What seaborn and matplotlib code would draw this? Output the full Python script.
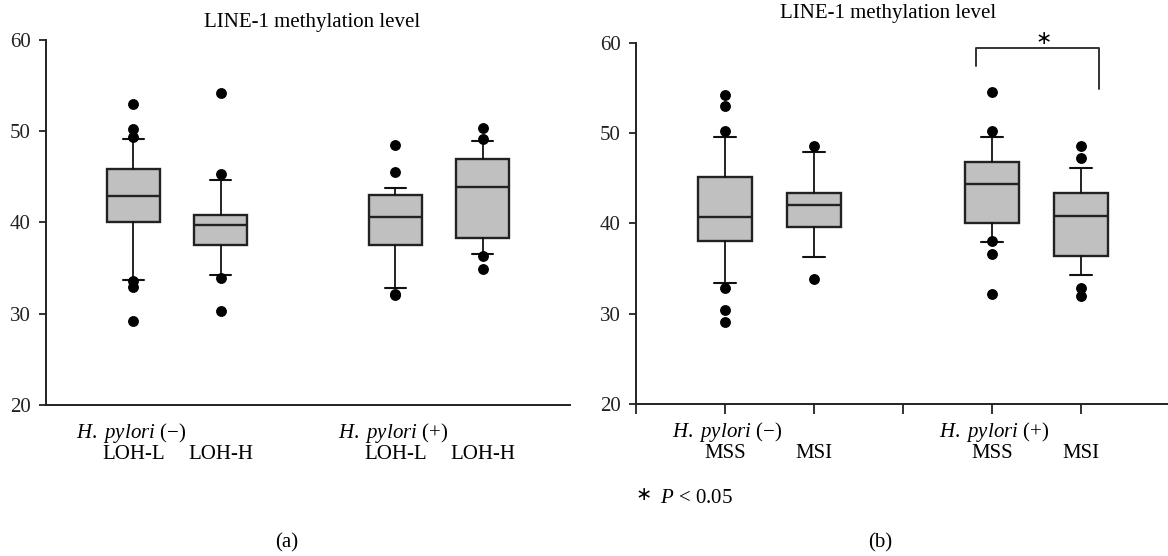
import numpy as np
import pandas as pd
import seaborn as sns
import matplotlib.pyplot as plt

# Box positions on the x axis (two groups of two boxes)
positions = [1, 2, 4, 5]
group_labels = [r"$\mathit{H.\ pylori}$ (−)", r"$\mathit{H.\ pylori}$ (+)"]

# Panel (a): LOH-L / LOH-H
labels_a = ["LOH-L", "LOH-H", "LOH-L", "LOH-H"]
q1_a = [40.0, 37.5, 37.5, 38.3]
med_a = [42.9, 39.7, 40.6, 43.9]
q3_a = [45.9, 40.8, 43.05, 47.0]
lo_a = [33.7, 34.2, 32.8, 36.5]
hi_a = [49.1, 44.7, 43.8, 48.9]
out_a = [[53.0, 50.2, 49.4, 33.6, 32.9, 29.2],
         [54.2, 45.3, 33.9, 30.3],
         [48.5, 45.5, 32.2, 32.0],
         [50.3, 49.2, 36.3, 34.9]]

# Panel (b): MSS / MSI
labels_b = ["MSS", "MSI", "MSS", "MSI"]
q1_b = [38.1, 39.6, 40.0, 36.4]
med_b = [40.7, 42.0, 44.4, 40.8]
q3_b = [45.2, 43.4, 46.8, 43.4]
lo_b = [33.4, 36.3, 38.0, 34.3]
hi_b = [49.6, 47.9, 49.6, 46.1]
out_b = [[54.2, 53.0, 50.2, 32.9, 30.4, 29.1],
         [48.6, 33.9],
         [54.6, 50.2, 38.1, 36.6, 32.2],
         [48.6, 47.3, 32.9, 32.0]]

# significance bracket between the two H. pylori (+) boxes
bracket_x = [3.82, 3.82, 5.2, 5.2]
bracket_y = [57.4, 59.4, 59.4, 54.9]
star_x, star_y = 4.58, 60.5

sns.set_style("ticks")
plt.rcParams['font.family'] = ['Liberation Serif', 'DejaVu Serif']
plt.rcParams['mathtext.fontset'] = 'custom'
plt.rcParams['mathtext.rm'] = 'Liberation Serif'
plt.rcParams['mathtext.it'] = 'Liberation Serif:italic'
plt.rcParams['text.color'] = 'black'
plt.rcParams['xtick.color'] = '#222222'
plt.rcParams['ytick.color'] = '#222222'


def draw_boxes(ax, q1, med, q3, lo, hi, out):
    stats = []
    for i in range(len(positions)):
        stats.append(dict(q1=q1[i], med=med[i], q3=q3[i],
                          whislo=lo[i], whishi=hi[i], fliers=out[i]))
    ax.bxp(stats, positions=positions, widths=0.6, capwidths=0.24,
           patch_artist=True, showfliers=True,
           boxprops=dict(facecolor='#c0c0c0', edgecolor='#222222', linewidth=1.7),
           medianprops=dict(color='#222222', linewidth=1.7),
           whiskerprops=dict(color='#111111', linewidth=1.3),
           capprops=dict(color='#111111', linewidth=1.5),
           flierprops=dict(marker='o', markerfacecolor='black',
                           markeredgecolor='black', markersize=6.8))
    ax.set_xlim(0, 6)
    ax.set_ylim(20, 60)
    ax.set_yticks([20, 30, 40, 50, 60])
    ax.tick_params(axis='y', labelsize=15, length=5, width=1.3, pad=6)
    sns.despine(ax=ax)
    for s in ['left', 'bottom']:
        ax.spines[s].set_color('#222222')
        ax.spines[s].set_linewidth(1.4)


def draw_labels(ax, labels, group_shift):
    for i, g in enumerate(group_labels):
        ax.annotate(g, xy=(positions[2 * i] - group_shift, 0),
                    xycoords=('data', 'axes fraction'),
                    xytext=(0, -28), textcoords='offset pixels',
                    ha='left', va='center', fontsize=15)
    for p, lab in zip(positions, labels):
        ax.annotate(lab, xy=(p, 0), xycoords=('data', 'axes fraction'),
                    xytext=(0, -50), textcoords='offset pixels',
                    ha='center', va='center', fontsize=15)


fig = plt.figure(figsize=(11.68, 5.56), dpi=100)

ax_a = fig.add_axes([0.0394, 0.2716, 0.4486, 0.6565])
draw_boxes(ax_a, q1_a, med_a, q3_a, lo_a, hi_a, out_a)
ax_a.set_xticks([])
draw_labels(ax_a, labels_a, 0.66)

ax_b = fig.add_axes([0.5445, 0.2734, 0.4572, 0.6493])
draw_boxes(ax_b, q1_b, med_b, q3_b, lo_b, hi_b, out_b)
ax_b.set_xticks(range(7))
ax_b.set_xticklabels([])
ax_b.tick_params(axis='x', length=7, width=1.3)
draw_labels(ax_b, labels_b, 0.6)

# significance marker
ax_b.plot(bracket_x, bracket_y, color='#333333', linewidth=1.4, clip_on=False)
ax_b.text(star_x, star_y, "∗", ha='center', va='center', fontsize=14,
          family=['DejaVu Sans'])
ax_b.annotate("∗", xy=(0, 0), xycoords=('data', 'axes fraction'),
              xytext=(0, -91), textcoords='offset pixels',
              ha='left', va='center', fontsize=14, family=['DejaVu Sans'])
ax_b.annotate("$\\mathit{P}$ < 0.05", xy=(0, 0), xycoords=('data', 'axes fraction'),
              xytext=(24, -95), textcoords='offset pixels',
              ha='left', va='center', fontsize=15)

# titles and panel letters
fig.text(0.267, 0.960, "LINE-1 methylation level", ha='center', va='center', fontsize=15)
fig.text(0.760, 0.976, "LINE-1 methylation level", ha='center', va='center', fontsize=15)
fig.text(0.2457, 0.0234, "(a)", ha='center', va='center', fontsize=15)
fig.text(0.7534, 0.0234, "(b)", ha='center', va='center', fontsize=15)

plt.savefig("out.png", dpi=100)
